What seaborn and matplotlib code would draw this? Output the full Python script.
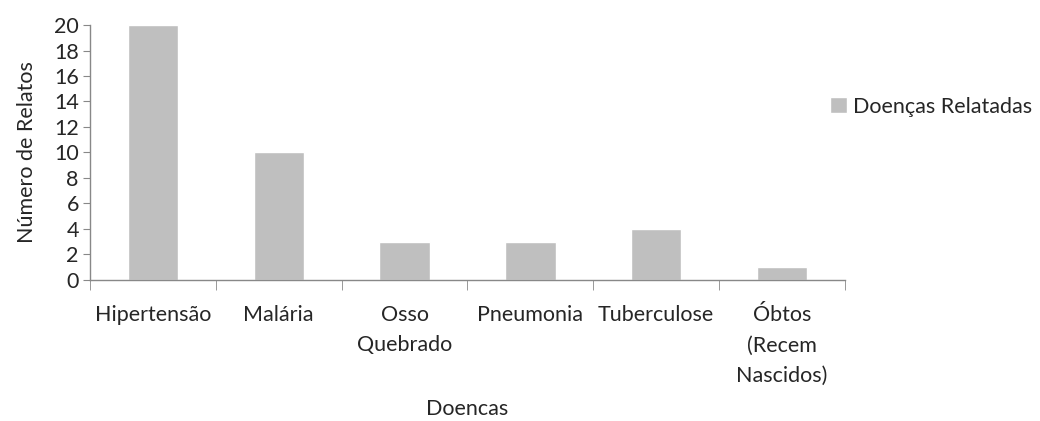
import matplotlib
matplotlib.use("Agg")
import matplotlib.pyplot as plt
import seaborn as sns
import pandas as pd

doencas = ["Hipertensão", "Malária", "Osso\nQuebrado", "Pneumonia", "Tuberculose", "Óbtos\n(Recem\nNascidos)"]
relatos = [20, 10, 3, 3, 4, 1]
serie = "Doenças Relatadas"

df = pd.DataFrame({"Doencas": doencas, "Relatos": relatos, "Serie": serie})

sns.set_style("white")
plt.rcParams['font.family'] = ['Lato', 'DejaVu Sans']
fs = 15.5

fig = plt.figure(figsize=(10.4, 4.21), dpi=100)
ax = fig.add_axes([0.0865, 0.335, 0.726, 0.6056])

sns.barplot(data=df, x="Doencas", y="Relatos", hue="Serie", palette=["#bfbfbf"],
            width=0.4, saturation=1, ax=ax)

ax.set_xlim(-0.5, len(doencas) - 0.5)
ax.set_ylim(0, 20)
ax.set_yticks(range(0, 21, 2))
ax.tick_params(axis="y", length=5, color="#888888", labelsize=fs, pad=3, direction="out", left=True)
ax.set_xticks([i - 0.5 for i in range(len(doencas) + 1)], minor=True)
ax.set_xticks(range(len(doencas)))
ax.set_xticklabels(doencas, fontsize=fs, va="top", linespacing=1.65)
ax.tick_params(axis="x", which="major", length=0, pad=18)
ax.tick_params(axis="x", which="minor", length=7, color="#888888", direction="out", bottom=True)

for s in ["top", "right"]:
    ax.spines[s].set_visible(False)
for s in ["left", "bottom"]:
    ax.spines[s].set_color("#888888")
    ax.spines[s].set_linewidth(1)

ax.set_xlabel("Doencas", fontsize=fs)
ax.xaxis.set_label_coords(0.5, -0.465)
ax.set_ylabel("Número de Relatos", fontsize=fs, labelpad=12)

ax.legend(loc="center left", bbox_to_anchor=(0.955, 0.68), frameon=False, fontsize=fs,
          handlelength=0.75, handleheight=0.75, handletextpad=0.3)

fig.savefig("out.png", dpi=100)
